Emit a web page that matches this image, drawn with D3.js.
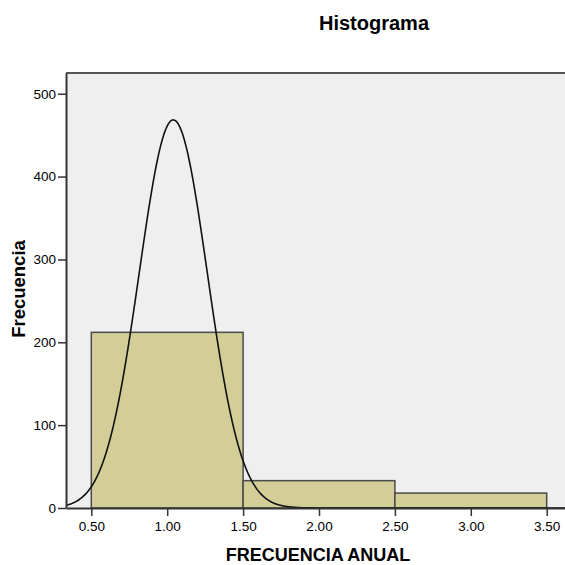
<!DOCTYPE html>
<html>
<head>
<meta charset="utf-8">
<script src="https://cdn.jsdelivr.net/npm/d3@7"></script>
<style>
  html, body { margin: 0; padding: 0; background: #fff; }
  svg { display: block; }
  text { font-family: "Liberation Sans", Arial, sans-serif; fill: #000; }
</style>
</head>
<body>
<script>
// Histogram bins (lower edge, upper edge) and their counts
const binStarts = [0.5, 1.5, 2.5];
const binEnds = [1.5, 2.5, 3.5];
const counts = [212, 33, 18];

// Fitted normal curve parameters
const curveMean = 1.04;
const curveSd = 0.224;
const curveN = 263;
const binWidth = 1;

// Axis ticks
const xTicks = [0.5, 1.0, 1.5, 2.0, 2.5, 3.0, 3.5];
const yTicks = [0, 100, 200, 300, 400, 500];

const W = 565, H = 565;
const plotLeft = 66, plotRight = 572, plotTop = 73, plotBottom = 508;

const svg = d3.select("body").append("svg")
  .attr("width", W).attr("height", H);

const x = d3.scaleLinear().domain([1 / 3, 11 / 3]).range([plotLeft, plotRight]);
const y = d3.scaleLinear().domain([0, 525]).range([plotBottom, plotTop]);

// plot background
svg.append("rect")
  .attr("x", plotLeft).attr("y", plotTop)
  .attr("width", plotRight - plotLeft).attr("height", plotBottom - plotTop)
  .attr("fill", "#efefef");

svg.append("clipPath").attr("id", "plot")
  .append("rect")
  .attr("x", plotLeft).attr("y", plotTop)
  .attr("width", plotRight - plotLeft).attr("height", plotBottom - plotTop);

// bars
const bins = counts.map((c, i) => ({ x0: binStarts[i], x1: binEnds[i], n: c }));
svg.append("g").selectAll("rect").data(bins).join("rect")
  .attr("x", d => x(d.x0))
  .attr("y", d => y(d.n))
  .attr("width", d => x(d.x1) - x(d.x0))
  .attr("height", d => y(0) - y(d.n))
  .attr("fill", "#d3ce98")
  .attr("stroke", "#4a4a4a")
  .attr("stroke-width", 1.5);

// normal curve scaled to counts
const density = v => curveN * binWidth / (curveSd * Math.sqrt(2 * Math.PI)) *
  Math.exp(-0.5 * Math.pow((v - curveMean) / curveSd, 2));
const xs = d3.range(1 / 3, 11 / 3, 0.005);
svg.append("path")
  .attr("clip-path", "url(#plot)")
  .datum(xs)
  .attr("d", d3.line().x(v => x(v)).y(v => y(density(v))).curve(d3.curveMonotoneX))
  .attr("fill", "none")
  .attr("stroke", "#111")
  .attr("stroke-width", 1.6);

// top frame line
svg.append("line")
  .attr("x1", plotLeft).attr("x2", plotRight)
  .attr("y1", plotTop).attr("y2", plotTop)
  .attr("stroke", "#555").attr("stroke-width", 2);

// axes
const xAxis = svg.append("g")
  .attr("transform", `translate(0,${plotBottom})`)
  .call(d3.axisBottom(x).tickValues(xTicks).tickFormat(d3.format(".2f"))
    .tickSizeInner(8).tickSizeOuter(0).tickPadding(5));
const yAxis = svg.append("g")
  .attr("transform", `translate(${plotLeft},0)`)
  .call(d3.axisLeft(y).tickValues(yTicks)
    .tickSizeInner(8).tickSizeOuter(0).tickPadding(2));

[xAxis, yAxis].forEach(g => {
  g.select(".domain").attr("stroke", "#333").attr("stroke-width", 2);
  g.selectAll(".tick line").attr("stroke", "#333").attr("stroke-width", 1.5);
  g.selectAll(".tick text")
    .attr("font-family", "'Liberation Sans', Arial, sans-serif")
    .attr("font-size", 13.5).attr("fill", "#222");
});

// titles
svg.append("text")
  .attr("x", 374).attr("y", 30)
  .attr("text-anchor", "middle")
  .attr("font-size", 20).attr("font-weight", "bold")
  .text("Histograma");

svg.append("text")
  .attr("x", 318).attr("y", 561)
  .attr("text-anchor", "middle")
  .attr("font-size", 18).attr("font-weight", "bold")
  .text("FRECUENCIA ANUAL");

svg.append("text")
  .attr("transform", "translate(25,289) rotate(-90)")
  .attr("text-anchor", "middle")
  .attr("font-size", 18.5).attr("font-weight", "bold")
  .text("Frecuencia");
</script>
</body>
</html>
